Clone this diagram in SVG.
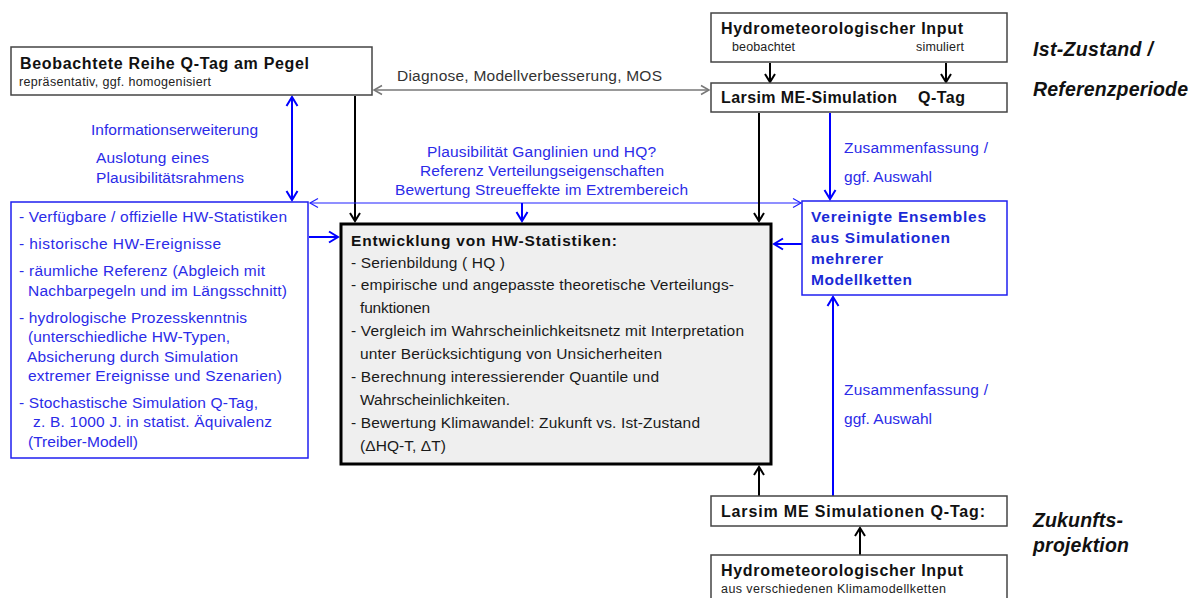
<svg xmlns="http://www.w3.org/2000/svg" width="1196" height="598" viewBox="0 0 1196 598">
<style>
text{font-family:"Liberation Sans",Arial,sans-serif;}
.t{font-size:15.5px;fill:#1a1a1a;}
.b{font-size:16px;font-weight:bold;fill:#111;}
.s{font-size:12.5px;fill:#222;}
.bl{font-size:15.5px;fill:#2b2be8;}
.vb{font-size:15.5px;font-weight:bold;fill:#1a2ad6;}
.bi{font-size:19.5px;font-weight:bold;font-style:italic;fill:#111;}
.box{fill:#fff;stroke:#444;stroke-width:1.5;}
.bbox{fill:#fff;stroke:#1f1ff0;stroke-width:1.5;}
.main{fill:#efefef;stroke:#000;stroke-width:3;}
.k{stroke:#000;stroke-width:2;fill:none;}
.u{stroke:#0000ff;stroke-width:2;fill:none;}
.ut{stroke:#2020ff;stroke-width:1.2;fill:none;}
.g{stroke:#777;stroke-width:1.5;fill:none;}
</style>
<defs>
<marker id="ak" markerUnits="userSpaceOnUse" markerWidth="14" markerHeight="14" viewBox="-10 -7 12 14" refX="0" refY="0" orient="auto-start-reverse"><path d="M-8,-5 L0,0 L-8,5" fill="none" stroke="#000" stroke-width="2"/></marker>
<marker id="au" markerUnits="userSpaceOnUse" markerWidth="14" markerHeight="14" viewBox="-10 -7 12 14" refX="0" refY="0" orient="auto-start-reverse"><path d="M-9,-5.5 L0,0 L-9,5.5" fill="none" stroke="#0000ff" stroke-width="2"/></marker>
<marker id="aut" markerUnits="userSpaceOnUse" markerWidth="14" markerHeight="14" viewBox="-10 -7 12 14" refX="0" refY="0" orient="auto-start-reverse"><path d="M-8,-4.5 L0,0 L-8,4.5" fill="none" stroke="#2020ff" stroke-width="1.2"/></marker>
<marker id="ag" markerUnits="userSpaceOnUse" markerWidth="14" markerHeight="14" viewBox="-10 -7 12 14" refX="0" refY="0" orient="auto-start-reverse"><path d="M-8,-4.5 L0,0 L-8,4.5" fill="none" stroke="#777" stroke-width="1.5"/></marker>
</defs>

<g id="connectors">
<line class="g" x1="374" y1="90" x2="709" y2="90" marker-start="url(#ag)" marker-end="url(#ag)"/>
<line class="k" x1="355" y1="96" x2="355" y2="221" marker-end="url(#ak)"/>
<line class="u" x1="292" y1="97" x2="292" y2="200" marker-start="url(#au)" marker-end="url(#au)"/>
<line class="ut" x1="310" y1="203" x2="801" y2="203" marker-start="url(#aut)" marker-end="url(#aut)"/>
<line class="u" x1="522" y1="203" x2="522" y2="221" marker-end="url(#au)"/>
<line class="u" x1="309" y1="237" x2="338" y2="237" marker-end="url(#au)"/>
<line class="k" x1="759" y1="113" x2="759" y2="221" marker-end="url(#ak)"/>
<line class="u" x1="830" y1="113" x2="830" y2="199" marker-end="url(#au)"/>
<line class="u" x1="802" y1="244" x2="774" y2="244" marker-end="url(#au)"/>
<line class="u" x1="833" y1="496" x2="833" y2="297" marker-end="url(#au)"/>
<line class="k" x1="759" y1="496" x2="759" y2="467" marker-end="url(#ak)"/>
<line class="k" x1="860" y1="555" x2="860" y2="528" marker-end="url(#ak)"/>
<line class="k" x1="770" y1="63" x2="770" y2="82" marker-end="url(#ak)"/>
<line class="k" x1="946" y1="63" x2="946" y2="82" marker-end="url(#ak)"/>
</g>

<g id="beobachtete">
<rect class="box" x="11" y="47" width="361" height="48"/>
<text class="b" x="20" y="69" textLength="289" lengthAdjust="spacing">Beobachtete  Reihe  Q-Tag  am  Pegel</text>
<text class="s" x="19" y="86" textLength="192" lengthAdjust="spacing">repräsentativ,  ggf. homogenisiert</text>
</g>

<g id="label-info">
<text class="bl" x="91" y="135" textLength="167" lengthAdjust="spacing">Informationserweiterung</text>
<text class="bl" x="96" y="163" textLength="113" lengthAdjust="spacing">Auslotung eines</text>
<text class="bl" x="96" y="183" textLength="148" lengthAdjust="spacing">Plausibilitätsrahmens</text>
</g>

<g id="label-diagnose">
<text class="t" x="397" y="81" textLength="265" lengthAdjust="spacing" style="fill:#333">Diagnose, Modellverbesserung,  MOS</text>
</g>

<g id="label-plaus">
<text class="bl" x="427" y="157" textLength="229" lengthAdjust="spacing">Plausibilität Ganglinien und HQ?</text>
<text class="bl" x="420" y="176" textLength="244" lengthAdjust="spacing">Referenz  Verteilungseigenschaften</text>
<text class="bl" x="395" y="195" textLength="293" lengthAdjust="spacing">Bewertung  Streueffekte  im Extrembereich</text>
</g>

<g id="hydro-top">
<rect class="box" x="711" y="13" width="296" height="49"/>
<text class="b" x="721" y="34" textLength="242" lengthAdjust="spacing">Hydrometeorologischer  Input</text>
<text class="s" x="732" y="51" textLength="63" lengthAdjust="spacing">beobachtet</text>
<text class="s" x="916" y="51" textLength="48" lengthAdjust="spacing">simuliert</text>
</g>

<g id="larsim-top">
<rect class="box" x="711" y="83" width="296" height="29"/>
<text class="b" x="721" y="103" textLength="176" lengthAdjust="spacing">Larsim  ME-Simulation</text>
<text class="b" x="918" y="103" textLength="47" lengthAdjust="spacing">Q-Tag</text>
</g>

<g id="ist-zustand">
<text class="bi" x="1033" y="56" textLength="120" lengthAdjust="spacing">Ist-Zustand /</text>
<text class="bi" x="1033" y="96" textLength="155" lengthAdjust="spacing">Referenzperiode</text>
</g>

<g id="label-zus-top">
<text class="bl" x="844" y="153" textLength="144" lengthAdjust="spacing">Zusammenfassung  /</text>
<text class="bl" x="844" y="182" textLength="88" lengthAdjust="spacing">ggf. Auswahl</text>
</g>

<g id="left-box">
<rect class="bbox" x="11" y="202" width="297" height="256"/>
<text class="bl" x="19" y="222" textLength="268" lengthAdjust="spacing">- Verfügbare / offizielle HW-Statistiken</text>
<text class="bl" x="19" y="249" textLength="202" lengthAdjust="spacing">- historische  HW-Ereignisse</text>
<text class="bl" x="19" y="276" textLength="246" lengthAdjust="spacing">- räumliche Referenz (Abgleich mit</text>
<text class="bl" x="28" y="296" textLength="259" lengthAdjust="spacing">Nachbarpegeln und im Längsschnitt)</text>
<text class="bl" x="19" y="323" textLength="228" lengthAdjust="spacing">- hydrologische Prozesskenntnis</text>
<text class="bl" x="28" y="342" textLength="202" lengthAdjust="spacing">(unterschiedliche  HW-Typen,</text>
<text class="bl" x="27" y="362" textLength="211" lengthAdjust="spacing">Absicherung durch Simulation</text>
<text class="bl" x="28" y="381" textLength="254" lengthAdjust="spacing">extremer Ereignisse und Szenarien)</text>
<text class="bl" x="19" y="408" textLength="239" lengthAdjust="spacing">- Stochastische Simulation Q-Tag,</text>
<text class="bl" x="33" y="427" textLength="239" lengthAdjust="spacing">z. B. 1000 J. in statist. Äquivalenz</text>
<text class="bl" x="28" y="447" textLength="110" lengthAdjust="spacing">(Treiber-Modell)</text>
</g>

<g id="main-box">
<rect class="main" x="341" y="224" width="430" height="240"/>
<text class="b" x="351" y="246" textLength="266" lengthAdjust="spacing" style="font-size:15.5px">Entwicklung  von HW-Statistiken:</text>
<text class="t" x="351" y="268" textLength="154" lengthAdjust="spacing">- Serienbildung ( HQ )</text>
<text class="t" x="351" y="290" textLength="383" lengthAdjust="spacing">- empirische und angepasste theoretische Verteilungs-</text>
<text class="t" x="360" y="313" textLength="70" lengthAdjust="spacing">funktionen</text>
<text class="t" x="351" y="336" textLength="393" lengthAdjust="spacing">- Vergleich im Wahrscheinlichkeitsnetz  mit Interpretation</text>
<text class="t" x="360" y="359" textLength="302" lengthAdjust="spacing">unter Berücksichtigung von Unsicherheiten</text>
<text class="t" x="351" y="382" textLength="308" lengthAdjust="spacing">- Berechnung interessierender Quantile und</text>
<text class="t" x="360" y="405" textLength="150" lengthAdjust="spacing">Wahrscheinlichkeiten.</text>
<text class="t" x="351" y="428" textLength="349" lengthAdjust="spacing">- Bewertung Klimawandel: Zukunft vs. Ist-Zustand</text>
<text class="t" x="360" y="451" textLength="86" lengthAdjust="spacing">(ΔHQ-T,  ΔT)</text>
</g>

<g id="vereinigte">
<rect class="bbox" x="802" y="201" width="205" height="94"/>
<text class="vb" x="811" y="222" textLength="175" lengthAdjust="spacing">Vereinigte  Ensembles</text>
<text class="vb" x="811" y="243" textLength="139" lengthAdjust="spacing">aus  Simulationen</text>
<text class="vb" x="811" y="264" textLength="72" lengthAdjust="spacing">mehrerer</text>
<text class="vb" x="811" y="285" textLength="101" lengthAdjust="spacing">Modellketten</text>
</g>

<g id="label-zus-bottom">
<text class="bl" x="844" y="395" textLength="144" lengthAdjust="spacing">Zusammenfassung  /</text>
<text class="bl" x="844" y="424" textLength="88" lengthAdjust="spacing">ggf. Auswahl</text>
</g>

<g id="larsim-bottom">
<rect class="box" x="711" y="496" width="296" height="30"/>
<text class="b" x="721" y="517" textLength="264" lengthAdjust="spacing">Larsim  ME  Simulationen   Q-Tag:</text>
</g>

<g id="zukunft">
<text class="bi" x="1033" y="527" textLength="90" lengthAdjust="spacing">Zukunfts-</text>
<text class="bi" x="1033" y="552" textLength="96" lengthAdjust="spacing">projektion</text>
</g>

<g id="hydro-bottom">
<rect class="box" x="711" y="555" width="296" height="50"/>
<text class="b" x="721" y="576" textLength="242" lengthAdjust="spacing">Hydrometeorologischer  Input</text>
<text class="s" x="721" y="593" textLength="225" lengthAdjust="spacing">aus verschiedenen   Klimamodellketten</text>
</g>
</svg>
